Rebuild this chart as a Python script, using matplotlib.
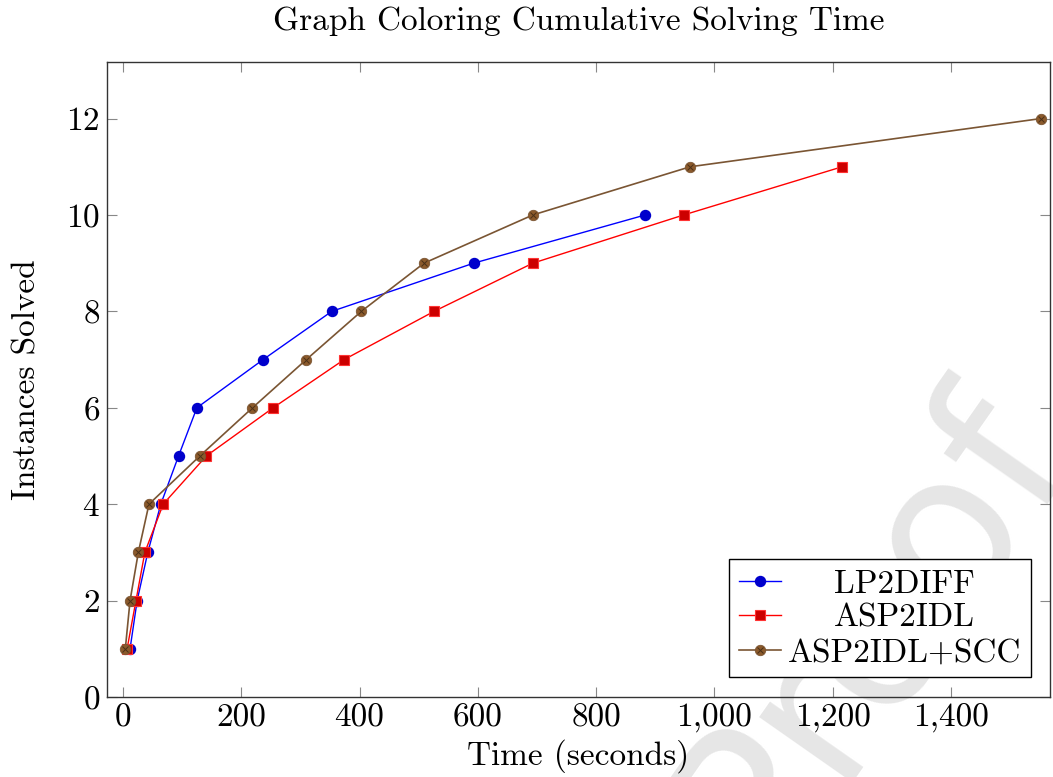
import matplotlib
matplotlib.use("Agg")
import matplotlib.pyplot as plt
from matplotlib.ticker import FuncFormatter, MultipleLocator
from matplotlib.legend_handler import HandlerTuple

# cumulative solving time per number of instances solved
lp2diff_t = [12, 24, 42, 64, 94, 125, 237, 353, 593, 883]
lp2diff_n = [1, 2, 3, 4, 5, 6, 7, 8, 9, 10]

asp2idl_t = [7, 22, 37, 68, 141, 254, 374, 526, 693, 948, 1216]
asp2idl_n = [1, 2, 3, 4, 5, 6, 7, 8, 9, 10, 11]

scc_t = [4, 12, 26, 44, 130, 219, 310, 403, 509, 693, 959, 1552]
scc_n = [1, 2, 3, 4, 5, 6, 7, 8, 9, 10, 11, 12]

labels = ["LP2DIFF", "ASP2IDL", "ASP2IDL+SCC"]

plt.rcParams['font.family'] = ['cmr10', 'DejaVu Serif']
plt.rcParams['axes.formatter.use_mathtext'] = True

fig = plt.figure(figsize=(10.53, 7.77), dpi=100)
ax = fig.add_axes([0.1016, 0.103, 0.8954, 0.817])
ax.patch.set_alpha(0)

# faint watermark behind everything
fig.text(0.825, 0.19, "Proof", family="DejaVu Sans", fontsize=150,
         color="#e6e6e6", rotation=55, ha="center", va="center", zorder=-5)

blue_line, = ax.plot(lp2diff_t, lp2diff_n, color="#0000ff", lw=1, marker="o",
                     ms=7.2, mfc="#0000cc", mec="#0000cc")
red_line, = ax.plot(asp2idl_t, asp2idl_n, color="#ff0000", lw=1, marker="s",
                    ms=7, mfc="#cc0000", mec="#ff3333", mew=0.8)
brown_line, = ax.plot(scc_t, scc_n, color="#7a5533", lw=1.2, marker="o",
                      ms=7.5, mfc="#8b5a2b", mec="#7a5533", mew=0.6)
brown_x, = ax.plot(scc_t, scc_n, ls="none", marker="x", ms=4.5, mec="#4a3018",
                   mew=0.7)

ax.set_xlim(-27, 1567)
ax.set_ylim(0, 13.17)
ax.xaxis.set_major_locator(MultipleLocator(200))
ax.yaxis.set_major_locator(MultipleLocator(2))
ax.xaxis.set_major_formatter(FuncFormatter(lambda v, p: f"{int(v):,}"))

ax.tick_params(direction="in", length=7, width=0.8, color="#888888",
               labelsize=24, top=True, right=True, pad=5)
for s in ax.spines.values():
    s.set_color("#333333")
    s.set_linewidth(1)

ax.set_title("Graph Coloring Cumulative Solving Time", fontsize=24, pad=23)
ax.set_xlabel("Time (seconds)", fontsize=24, labelpad=4)
ax.set_ylabel("Instances Solved", fontsize=24, labelpad=18)

leg = ax.legend([blue_line, red_line, (brown_line, brown_x)], labels,
                handler_map={tuple: HandlerTuple(ndivide=1, pad=0)},
                loc="lower right", bbox_to_anchor=(0.980, 0.031),
                borderaxespad=0, fontsize=24, frameon=True, fancybox=False,
                framealpha=1, edgecolor="black", handlelength=1.25,
                handletextpad=0.2, labelspacing=0.15, borderpad=0.3)
leg.get_frame().set_linewidth(1)

# center the legend entries like pgfplots does
fig.canvas.draw()
widths = [t.get_window_extent().width for t in leg.get_texts()]
for t, w in zip(leg.get_texts(), widths):
    t.set_x((max(widths) - w) / 2)

fig.savefig("out.png", dpi=100)
